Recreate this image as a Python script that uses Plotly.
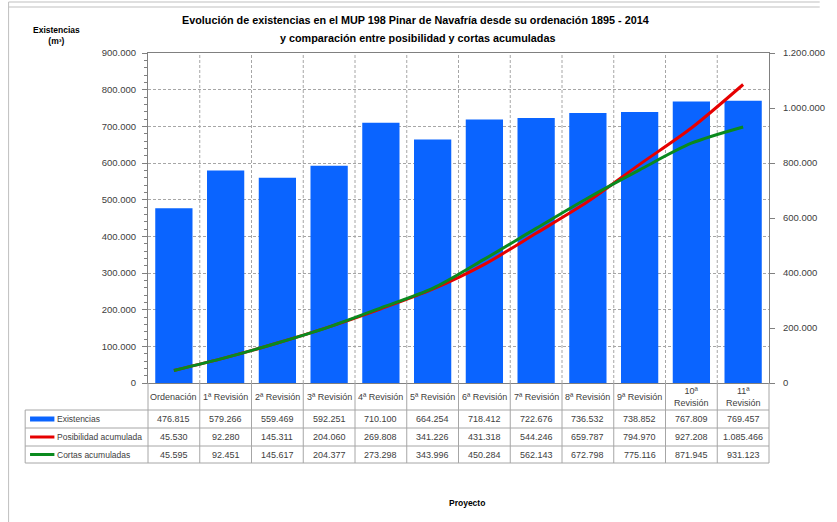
import plotly.graph_objects as go

categories = ["Ordenación", "1ª Revisión", "2ª Revisión", "3ª Revisión", "4ª Revisión",
              "5ª Revisión", "6ª Revisión", "7ª Revisión", "8ª Revisión", "9ª Revisión",
              "10ª Revisión", "11ª Revisión"]
cat_labels = ["Ordenación", "1ª Revisión", "2ª Revisión", "3ª Revisión", "4ª Revisión",
              "5ª Revisión", "6ª Revisión", "7ª Revisión", "8ª Revisión", "9ª Revisión",
              "10ª<br>Revisión", "11ª<br>Revisión"]
existencias = [476815, 579266, 559469, 592251, 710100, 664254, 718412, 722676, 736532, 738852, 767809, 769457]
posibilidad = [45530, 92280, 145311, 204060, 269808, 341226, 431318, 544246, 659787, 794970, 927208, 1085466]
cortas = [45595, 92451, 145617, 204377, 273298, 343996, 450284, 562143, 672798, 775116, 871945, 931123]
series_names = ["Existencias", "Posibilidad acumulada", "Cortas acumuladas"]
series_colors = ["#0A64FF", "#E60000", "#0A8A1E"]

W, H = 837, 522
L, R, T, B = 148, 785, 53, 383
PW, PH = R - L, B - T

def px(x):
    return (x - L) / PW

def py(y):
    return (B - y) / PH

def fmt(v):
    return f"{v:,}".replace(",", ".")

FONT = "Liberation Sans"
TXT = "#404040"
GRID = "#A6A6A6"
DASH = "3px,2px"

fig = go.Figure()
fig.add_trace(go.Bar(x=categories, y=existencias, name=series_names[0],
                     marker=dict(color=series_colors[0], line=dict(width=0)),
                     width=0.72, yaxis="y"))
fig.add_trace(go.Scatter(x=categories, y=posibilidad, name=series_names[1], mode="lines",
                         line=dict(color=series_colors[1], width=3, shape="spline", smoothing=0.8),
                         yaxis="y2"))
fig.add_trace(go.Scatter(x=categories, y=cortas, name=series_names[2], mode="lines",
                         line=dict(color=series_colors[2], width=3, shape="spline", smoothing=0.8),
                         yaxis="y2"))

shapes = []
annotations = []
n = len(categories)

# outer frame
shapes.append(dict(type="line", xref="paper", yref="paper", x0=px(5), x1=px(837), y0=py(2), y1=py(2),
                   line=dict(color="#BFBFBF", width=1)))
shapes.append(dict(type="line", xref="paper", yref="paper", x0=px(5), x1=px(837), y0=py(7), y1=py(7),
                   line=dict(color="#BFBFBF", width=1)))
shapes.append(dict(type="line", xref="paper", yref="paper", x0=px(5), x1=px(5), y0=py(2), y1=py(522),
                   line=dict(color="#BFBFBF", width=1)))

# vertical dashed gridlines between categories
for k in range(1, n):
    shapes.append(dict(type="line", xref="paper", yref="paper", x0=k / n, x1=k / n, y0=0, y1=1,
                       line=dict(color=GRID, width=1, dash=DASH), layer="below"))

# table
row_tops = [383, 410, 428, 446, 463]
for k in range(0, n + 1):
    shapes.append(dict(type="line", xref="paper", yref="paper", x0=k / n, x1=k / n,
                       y0=py(383), y1=py(463), line=dict(color=GRID, width=1)))
shapes.append(dict(type="line", xref="paper", yref="paper", x0=px(22), x1=px(22),
                   y0=py(410), y1=py(463), line=dict(color=GRID, width=1)))
for yy in row_tops[1:]:
    shapes.append(dict(type="line", xref="paper", yref="paper", x0=px(22), x1=1,
                       y0=py(yy), y1=py(yy), line=dict(color=GRID, width=1)))

for i, lab in enumerate(cat_labels):
    annotations.append(dict(xref="paper", yref="paper", x=(i + 0.5) / n, y=py(396.5), text=lab,
                            showarrow=False, font=dict(family=FONT, size=9, color=TXT),
                            xanchor="center", yanchor="middle"))

rows = [existencias, posibilidad, cortas]
for r, vals in enumerate(rows):
    yc = (row_tops[r + 1] + row_tops[r + 2]) / 2
    for i, v in enumerate(vals):
        annotations.append(dict(xref="paper", yref="paper", x=(i + 0.5) / n, y=py(yc), text=fmt(v),
                                showarrow=False, font=dict(family=FONT, size=9, color=TXT),
                                xanchor="center", yanchor="middle"))
    # legend key
    if r == 0:
        shapes.append(dict(type="rect", xref="paper", yref="paper", x0=px(27), x1=px(52),
                           y0=py(yc - 2.5), y1=py(yc + 2.5), fillcolor=series_colors[0],
                           line=dict(width=0)))
    else:
        shapes.append(dict(type="line", xref="paper", yref="paper", x0=px(27), x1=px(52),
                           y0=py(yc), y1=py(yc), line=dict(color=series_colors[r], width=3)))
    annotations.append(dict(xref="paper", yref="paper", x=px(53), y=py(yc), text=series_names[r],
                            showarrow=False, font=dict(family=FONT, size=8.5, color=TXT),
                            xanchor="left", yanchor="middle"))

# titles
annotations.append(dict(xref="paper", yref="paper", x=px(422), y=py(20),
                        text="<b>Evolución de existencias en el MUP 198 Pinar de Navafría desde su ordenación 1895 - 2014</b>",
                        showarrow=False, font=dict(family=FONT, size=10.8, color="#000000"),
                        xanchor="center", yanchor="middle"))
annotations.append(dict(xref="paper", yref="paper", x=px(424), y=py(38),
                        text="<b>y comparación entre posibilidad y cortas acumuladas</b>",
                        showarrow=False, font=dict(family=FONT, size=10.8, color="#000000"),
                        xanchor="center", yanchor="middle"))
annotations.append(dict(xref="paper", yref="paper", x=px(54), y=py(35),
                        text="<b>Existencias</b><br><b>(m³)</b>",
                        showarrow=False, font=dict(family=FONT, size=8.5, color="#000000"),
                        xanchor="center", yanchor="middle"))
annotations.append(dict(xref="paper", yref="paper", x=px(475), y=py(503),
                        text="<b>Proyecto</b>",
                        showarrow=False, font=dict(family=FONT, size=8.5, color="#000000"),
                        xanchor="center", yanchor="middle"))

fig.update_layout(
    width=W, height=H,
    margin=dict(l=L, r=W - R, t=T, b=H - B, pad=0),
    paper_bgcolor="white", plot_bgcolor="white",
    separators=",.",
    showlegend=False,
    bargap=0.28,
    font=dict(family=FONT, size=9, color=TXT),
    xaxis=dict(type="category", range=[-0.5, n - 0.5], showticklabels=False, showgrid=False,
               ticks="", showline=True, linecolor="#808080", linewidth=1, mirror=True, zeroline=False),
    yaxis=dict(range=[0, 900000], dtick=100000, tickformat=",d", showgrid=True,
               gridcolor=GRID, griddash=DASH, gridwidth=1, showline=True, linecolor="#808080",
               linewidth=1, ticks="outside", ticklen=5, tickcolor="#808080", zeroline=False,
               minor=dict(dtick=20000, ticks="outside", ticklen=3, tickcolor="#808080", showgrid=False),
               tickfont=dict(family=FONT, size=9.5, color=TXT), ticklabelstandoff=4),
    yaxis2=dict(range=[0, 1200000], dtick=200000, tickformat=",d", overlaying="y", side="right",
                showgrid=False, showline=True, linecolor="#808080", linewidth=1, ticks="outside",
                ticklen=5, tickcolor="#808080", zeroline=False,
                tickfont=dict(family=FONT, size=9.5, color=TXT), ticklabelstandoff=6),
    shapes=shapes,
    annotations=annotations,
)

fig.write_html("out.html")
